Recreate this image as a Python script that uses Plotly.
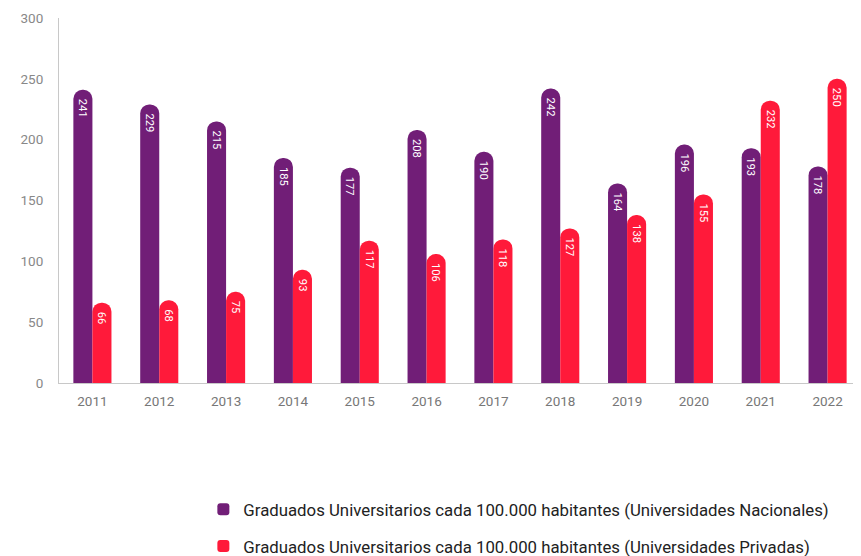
import plotly.graph_objects as go

years = ["2011", "2012", "2013", "2014", "2015", "2016", "2017", "2018", "2019", "2020", "2021", "2022"]
nacionales = [241, 229, 215, 185, 177, 208, 190, 242, 164, 196, 193, 178]
privadas = [66, 68, 75, 93, 117, 106, 118, 127, 138, 155, 232, 250]
name_nac = "Graduados Universitarios cada 100.000 habitantes (Universidades Nacionales)"
name_priv = "Graduados Universitarios cada 100.000 habitantes (Universidades Privadas)"

PURPLE = "#711e77"
RED = "#ff1a3a"
FONT = "Roboto"

fig = go.Figure()
for name, vals, col, grp in [(name_nac, nacionales, PURPLE, "a"), (name_priv, privadas, RED, "b")]:
    fig.add_trace(go.Bar(
        x=years, y=vals, name=name, marker=dict(color=col, line=dict(width=0)),
        text=[str(v) for v in vals], textposition="inside", insidetextanchor="end",
        textangle=90, textfont=dict(color="white", size=12, family=FONT),
        legendgroup=grp, cliponaxis=False,
    ))

fig.update_layout(
    width=861, height=556,
    margin=dict(l=51, r=8, t=10, b=181, autoexpand=False),
    paper_bgcolor="white", plot_bgcolor="white",
    barmode="group", bargap=0.43, bargroupgap=0,
    barcornerradius="50%",
    font=dict(family=FONT, color="#888888", size=13),
    xaxis=dict(type="category", showline=True, linecolor="#c8c8c8", linewidth=1,
               showgrid=False, ticks="", ticklabelstandoff=6,
               tickfont=dict(size=13.5, color="#777777")),
    yaxis=dict(range=[0, 300], tickvals=[0, 50, 100, 150, 200, 250, 300], showline=True,
               linecolor="#c8c8c8", linewidth=1, showgrid=False, zeroline=False,
               ticks="", ticklabelstandoff=12, tickfont=dict(size=13.5, color="#888888")),
    legend=dict(orientation="v", x=0.18, xanchor="left", y=-0.298, yanchor="top",
                font=dict(size=16.8, color="#222222", family=FONT),
                tracegroupgap=12, itemwidth=30, traceorder="grouped"),
    showlegend=True,
)

fig.write_html("out.html")
